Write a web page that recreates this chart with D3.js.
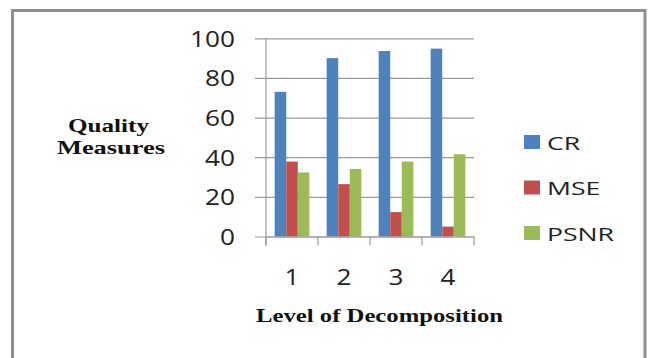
<!DOCTYPE html>
<html>
<head>
<meta charset="utf-8">
<script src="https://cdn.jsdelivr.net/npm/d3@7"></script>
<style>
  html, body { margin: 0; padding: 0; background: #fff; }
  svg { display: block; }
</style>
</head>
<body>
<script>
// Compression results per decomposition level
const levels = ["1", "2", "3", "4"];
const seriesNames = ["CR", "MSE", "PSNR"];
const crValues = [73, 90, 93.6, 94.8];
const mseValues = [37.8, 26.4, 12.3, 5];
const psnrValues = [32.3, 34.1, 37.8, 41.5];
const yTicks = [0, 20, 40, 60, 80, 100];
const seriesColors = ["#4F81BD", "#C0504D", "#9BBB59"];

const seriesValues = [crValues, mseValues, psnrValues];

const W = 651, H = 358;
const svg = d3.select("body").append("svg")
  .attr("width", W).attr("height", H);

// outer chart frame
svg.append("rect")
  .attr("x", 12.5).attr("y", 10.5)
  .attr("width", 632.5).attr("height", 400)
  .attr("fill", "#fff")
  .attr("stroke", "#8f8f8f").attr("stroke-width", 3);

const plot = { left: 266, right: 474, top: 38.3, bottom: 236.5 };

const x = d3.scaleBand()
  .domain(levels)
  .range([plot.left, plot.right])
  .paddingInner(1 / 3)
  .paddingOuter(1 / 6);

const xInner = d3.scaleBand()
  .domain(seriesNames)
  .range([0, x.bandwidth()]);

const y = d3.scaleLinear()
  .domain([0, 100])
  .range([plot.bottom, plot.top]);

const sansFont = "'Open Sans', 'DejaVu Sans', sans-serif";
const serifFont = "'Liberation Serif', 'DejaVu Serif', serif";

// horizontal gridlines with outward ticks
const yAxis = d3.axisLeft(y)
  .tickValues(yTicks)
  .tickSize(-(plot.right - plot.left))
  .tickSizeOuter(0)
  .tickFormat(d3.format("d"));

const yG = svg.append("g")
  .attr("transform", `translate(${plot.left},0)`)
  .call(yAxis);
yG.select(".domain").remove();
yG.selectAll(".tick line")
  .attr("x1", -11)
  .attr("stroke", "#9a9a9a")
  .attr("stroke-width", 1.2);
yG.selectAll(".tick text")
  .attr("x", 0).attr("dy", 0)
  .attr("transform", "translate(-31,8) scale(1.19,1)")
  .attr("font-family", sansFont)
  .attr("font-size", 22)
  .attr("fill", "#222")
  .attr("text-anchor", "end");

// vertical axis line
svg.append("line")
  .attr("x1", plot.left).attr("x2", plot.left)
  .attr("y1", plot.top).attr("y2", plot.bottom + 9)
  .attr("stroke", "#9a9a9a").attr("stroke-width", 1.2);

// bars
const groups = svg.append("g").selectAll("g")
  .data(levels)
  .join("g")
  .attr("transform", d => `translate(${x(d)},0)`);

groups.selectAll("rect")
  .data((d, i) => seriesNames.map((s, k) => ({ s, v: seriesValues[k][i], c: seriesColors[k] })))
  .join("rect")
  .attr("x", d => xInner(d.s))
  .attr("width", xInner.bandwidth())
  .attr("y", d => y(d.v))
  .attr("height", d => y(0) - y(d.v))
  .attr("fill", d => d.c);

// category axis
const xAxis = d3.axisBottom(x).tickSize(0).tickSizeOuter(0);
const xG = svg.append("g")
  .attr("transform", `translate(0,${plot.bottom})`)
  .call(xAxis);
xG.select(".domain")
  .attr("stroke", "#9a9a9a").attr("stroke-width", 1.2);
xG.selectAll(".tick text")
  .attr("y", 0).attr("dy", 0)
  .attr("transform", "translate(0,48) scale(1.19,1)")
  .attr("font-family", sansFont)
  .attr("font-size", 22)
  .attr("fill", "#222");

// category separators below the axis
const bounds = levels.map(d => x(d) - x.step() * x.paddingOuter()).concat([plot.right]);
svg.append("g").selectAll("line")
  .data(bounds)
  .join("line")
  .attr("x1", d => d).attr("x2", d => d)
  .attr("y1", plot.bottom).attr("y2", plot.bottom + 9)
  .attr("stroke", "#9a9a9a").attr("stroke-width", 1.2);

// axis titles
svg.append("text")
  .attr("x", 68).attr("y", 131.5)
  .attr("textLength", 81).attr("lengthAdjust", "spacingAndGlyphs")
  .attr("font-family", serifFont).attr("font-weight", "bold")
  .attr("font-size", 19.5).attr("fill", "#111")
  .text("Quality");
svg.append("text")
  .attr("x", 57).attr("y", 154.3)
  .attr("textLength", 108).attr("lengthAdjust", "spacingAndGlyphs")
  .attr("font-family", serifFont).attr("font-weight", "bold")
  .attr("font-size", 19.5).attr("fill", "#111")
  .text("Measures");
svg.append("text")
  .attr("x", 256).attr("y", 321.7)
  .attr("textLength", 247).attr("lengthAdjust", "spacingAndGlyphs")
  .attr("font-family", serifFont).attr("font-weight", "bold")
  .attr("font-size", 19.5).attr("fill", "#111")
  .text("Level of Decomposition");

// legend
const legend = svg.append("g").selectAll("g")
  .data(seriesNames)
  .join("g")
  .attr("transform", (d, i) => `translate(524,${135 + i * 45.5})`);
legend.append("rect")
  .attr("width", 16).attr("height", 14)
  .attr("fill", (d, i) => seriesColors[i]);
legend.append("text")
  .attr("transform", "translate(23,14.5) scale(1.4,1)")
  .attr("font-family", sansFont)
  .attr("font-size", 19)
  .attr("fill", "#222")
  .text(d => d);
</script>
</body>
</html>
